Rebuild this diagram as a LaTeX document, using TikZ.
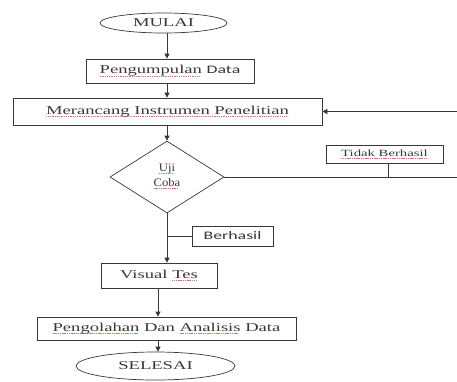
\documentclass[tikz,border=0pt]{standalone}
\usepackage{fontspec}
\setmainfont{Liberation Serif}[FakeStretch=1.55]
\newfontfamily\plainserif{Liberation Serif}[FakeStretch=1.1]
\newfontfamily\sansw{Carlito}[FakeStretch=1.55]
\usetikzlibrary{shapes.geometric,arrows.meta}
\definecolor{inkc}{gray}{0.22}
\definecolor{squig}{rgb}{0.82,0.45,0.45}
% spell-check style dotted underline
\newsavebox\spellbox
\newcommand\spell[1]{\sbox\spellbox{#1}\leavevmode
  \rlap{\raisebox{-2.4pt}{\textcolor{squig}{\hbox to \wd\spellbox{\leaders\hbox{\rule{1.1pt}{0.6pt}\hspace{0.7pt}}\hfil}}}}%
  \usebox\spellbox}
\newcommand\sanstext[1]{{\sansw\fontsize{11.5}{13}\selectfont #1}}
\begin{document}
\begin{tikzpicture}[x=1pt,y=-1pt,
  font=\fontsize{12}{14}\selectfont, text=inkc,
  boxnode/.style={draw=inkc, line width=0.7pt, rectangle, inner sep=0pt},
  ovalnode/.style={draw=inkc, line width=0.7pt, ellipse, inner sep=0pt},
  decision/.style={draw=inkc, line width=0.7pt, diamond, inner sep=0pt},
  flow/.style={draw=inkc, line width=0.7pt},
  arrowline/.style={flow, -{Triangle[length=5pt,width=5pt]}}]
\useasboundingbox (0,0) rectangle (457,381);

% nodes
\node[ovalnode, minimum width=127pt, minimum height=20pt] (mulai) at (163.5,23) {MULAI};
\node[boxnode, minimum width=168pt, minimum height=24pt] (kumpul) at (170,71)
  {\spell{Pengumpulan} \sanstext{Data}};
\node[boxnode, minimum width=309pt, minimum height=27pt] (rancang) at (167.5,111.5)
  {\spell{Merancang Instrumen Penelitian}};
\node[decision, minimum width=114pt, minimum height=72pt] (uji) at (167,177) {};
\node[align=center, font=\plainserif\fontsize{11.5}{15}\selectfont] (ujitext) at (167,176)
  {\spell{Uji}\\\spell{Coba}};
\node[boxnode, minimum width=117pt, minimum height=18pt, font=\fontsize{9.5}{11}\selectfont]
  (gagal) at (384.5,154) {\spell{Tidak Berhasil}};
\node[boxnode, minimum width=81pt, minimum height=20pt] (berhasil) at (232.5,236)
  {\sanstext{Berhasil}};
\node[boxnode, minimum width=116pt, minimum height=25pt] (visual) at (159,275.5)
  {Visual \spell{Tes}};
\node[boxnode, minimum width=259pt, minimum height=23pt] (olah) at (166.5,328.5)
  {\spell{Pengolahan} Dan \spell{Analisis} Data};
\node[ovalnode, minimum width=159pt, minimum height=28pt] (selesai) at (155.5,366) {SELESAI};

% guide coordinates for vertical runs
\coordinate (spineA) at (167,0);
\coordinate (spineB) at (158,0);
\coordinate (edge) at (462,0);
\coordinate (tap) at (388,177);

% connectors
\draw[arrowline] (mulai.south -| spineA) -- (kumpul.north -| spineA);
\draw[arrowline] (kumpul.south -| spineA) -- (rancang.north -| spineA);
\draw[arrowline] (rancang.south -| spineA) -- (uji.north);
\draw[arrowline] (uji.south) -- (visual.north -| spineA);
\draw[flow] (berhasil.west -| spineA) -- (berhasil.west);
\draw[arrowline] (uji.east) -- (uji.east -| edge) -- (rancang.east -| edge) -- (rancang.east);
\draw[flow] (gagal.south -| tap) -- (tap);
\draw[arrowline] (visual.south -| spineB) -- (olah.north -| spineB);
\draw[arrowline] (olah.south -| spineB) -- (selesai.north -| spineB);
\end{tikzpicture}
\end{document}
